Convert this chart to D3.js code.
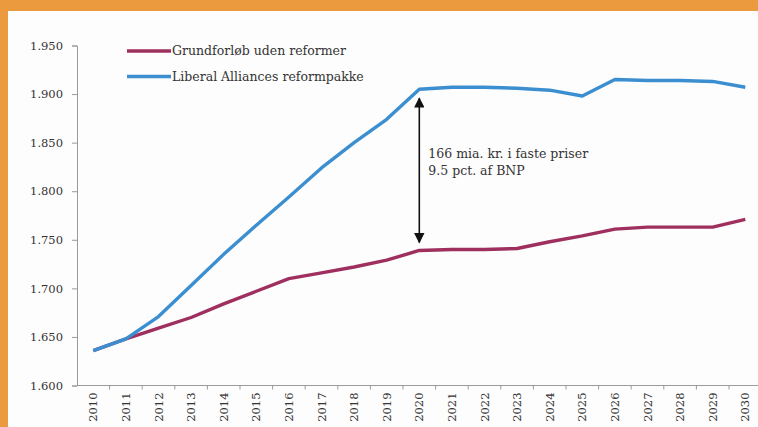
<!DOCTYPE html>
<meta charset="utf-8">
<script src="https://cdn.jsdelivr.net/npm/d3@7"></script>
<style>
body{margin:0; background:#ec9a3e; overflow:hidden;}
svg text{font-family:"DejaVu Serif",serif; fill:#333;}
.axis path, .axis line{stroke:#9a9a9a;}
</style>
<div id="vis"></div>
<script>

// data (mia. kr., faste priser)
const years = d3.range(2010, 2031).map(String);
const baseline = [1636,1648,1659,1670,1684,1697,1710,1716,1722,1729,1739,1740,1740,1741,1748,1754,1761,1763,1763,1763,1771];
const reform   = [1636,1648,1671,1703,1735,1765,1794,1824,1850,1874,1905,1907,1907,1906,1904,1898,1915,1914,1914,1913,1907];
const yTicks = [1600,1650,1700,1750,1800,1850,1900,1950];
const seriesNames = ["Grundforløb uden reformer", "Liberal Alliances reformpakke"];
const colors = ["#9e2f5e", "#3b8fd0"];

const w = 758, h = 427;

let svg = d3.select("#vis").append("svg")
    .attr("width", w).attr("height", h);

// white panel
svg.append("rect").attr("x", 8).attr("y", 11)
    .attr("width", w - 8).attr("height", h - 11)
    .attr("fill", "#fdfdfd");

let x = d3.scaleBand().domain(years).range([77, 77 + 21 * 32.6]);
let y = d3.scaleLinear().domain([1600, 1950]).range([385.5, 45.5]);

const dk = d3.formatLocale({decimal: ",", thousands: ".", grouping: [3], currency: ["", " kr."]});

svg.append("g")
    .attr("class", "axis")
    .attr("transform", "translate(77,0)")
    .call(d3.axisLeft(y).tickValues(yTicks).tickFormat(dk.format(",")).tickSize(5).tickPadding(9))
    .call(g => g.selectAll("text").attr("font-size", 11.5));

// x axis: ticks between categories
let xAxis = svg.append("g")
    .attr("class", "axis")
    .attr("transform", "translate(0,385.5)");
xAxis.append("line").attr("x1", 77).attr("x2", w).attr("stroke", "#9a9a9a");
xAxis.selectAll(".tk")
    .data(years.slice(1))
    .enter().append("line")
    .attr("x1", d => x(d)).attr("x2", d => x(d))
    .attr("y1", 0).attr("y2", 4)
    .attr("stroke", "#9a9a9a");
xAxis.selectAll(".lbl")
    .data(years)
    .enter().append("text")
    .attr("transform", d => "translate(" + (x(d) + x.bandwidth() / 2 + 4) + ",7) rotate(-90)")
    .attr("text-anchor", "end")
    .attr("font-size", 11.5)
    .attr("fill", "#444")
    .text(d => d);

// lines
let line = d3.line()
    .x((d, i) => x(years[i]) + x.bandwidth() / 2)
    .y(d => y(d));

[baseline, reform].forEach((s, i) => {
  svg.append("path")
    .datum(s)
    .attr("fill", "none")
    .attr("stroke", colors[i])
    .attr("stroke-width", 3.4)
    .attr("stroke-linejoin", "round")
    .attr("d", line);
});

// legend
seriesNames.forEach((n, i) => {
  let ly = 51 + i * 25.5;
  svg.append("line").attr("x1", 127).attr("x2", 171)
    .attr("y1", ly).attr("y2", ly)
    .attr("stroke", colors[i]).attr("stroke-width", 3.4);
  svg.append("text").attr("x", 172).attr("y", ly + 4)
    .attr("font-size", 12.5).text(n);
});

// annotation arrow at 2020
svg.append("defs").append("marker")
    .attr("id", "ah").attr("viewBox", "0 0 10 10")
    .attr("refX", 9).attr("refY", 5)
    .attr("markerWidth", 6.5).attr("markerHeight", 6.5)
    .attr("orient", "auto-start-reverse")
  .append("path").attr("d", "M0,0L10,5L0,10z").attr("fill", "#111");

let ax = x("2020") + x.bandwidth() / 2;
svg.append("line")
    .attr("x1", ax).attr("x2", ax)
    .attr("y1", y(reform[10]) + 9).attr("y2", y(baseline[10]) - 8)
    .attr("stroke", "#111").attr("stroke-width", 1.6)
    .attr("marker-start", "url(#ah)").attr("marker-end", "url(#ah)");

svg.append("text").attr("x", ax + 9).attr("y", 158)
    .attr("font-size", 12.5).text("166 mia. kr. i faste priser");
svg.append("text").attr("x", ax + 9).attr("y", 175)
    .attr("font-size", 12.5).text("9.5 pct. af BNP");

</script>
